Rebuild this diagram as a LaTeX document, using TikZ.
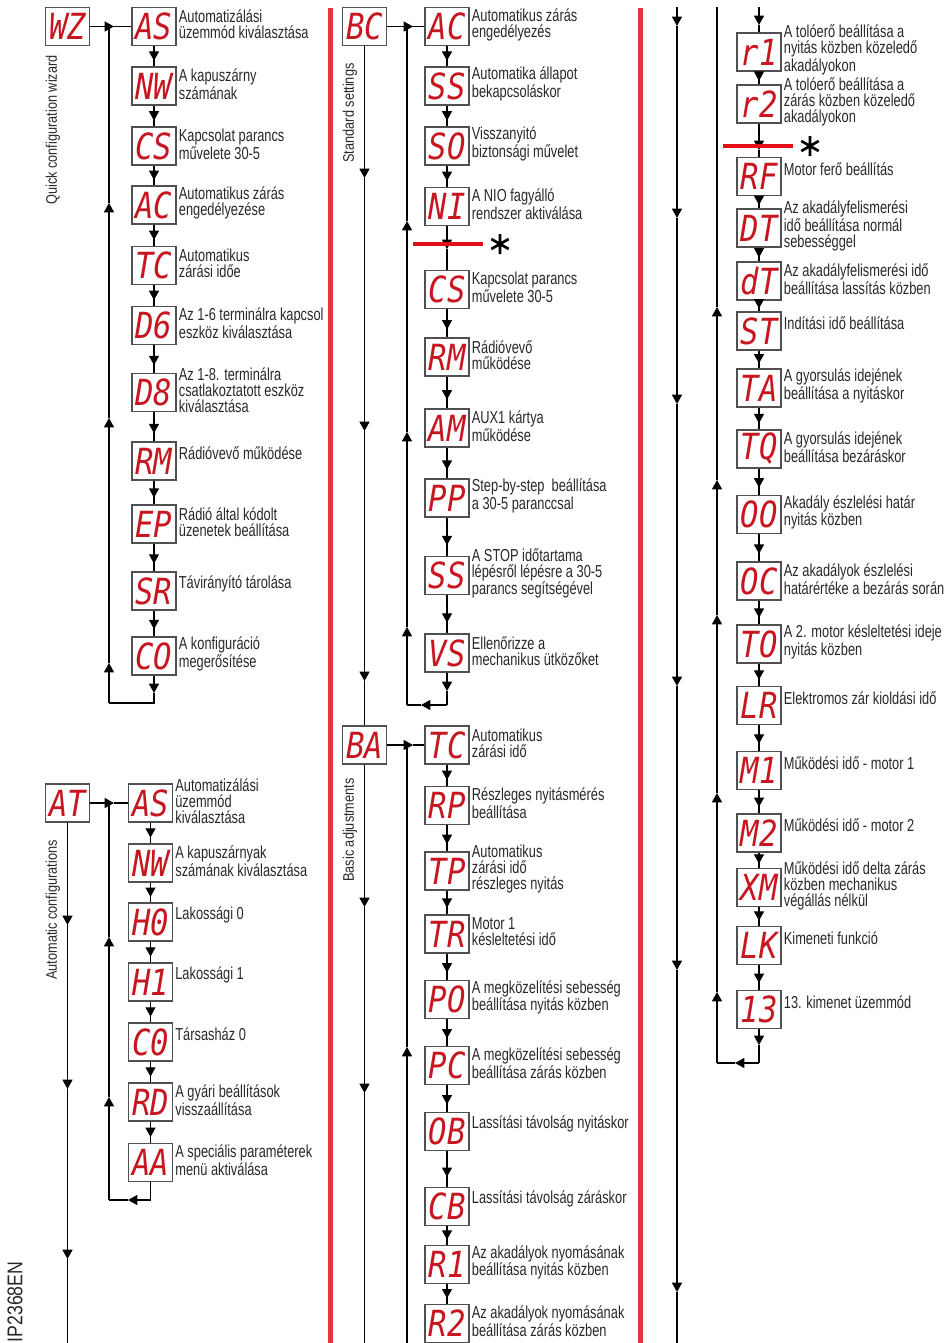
\documentclass[tikz,border=0pt]{standalone}
\usepackage{fontspec}
\usetikzlibrary{arrows.meta,decorations.markings}
\setmainfont{Liberation Sans}
\newfontfamily\labfam{Liberation Sans}[FakeStretch=0.74]
\newfontfamily\sidefam{Liberation Sans}[FakeStretch=0.83]
\newfontfamily\segfam{DejaVu Sans Mono}[FakeStretch=0.85]
\newcommand\labfont{\labfam\fontsize{13pt}{12pt}\selectfont}
\newcommand\sidefont{\sidefam\fontsize{11.5pt}{11.5pt}\selectfont}
\newcommand\segfont{\segfam\itshape\fontsize{27pt}{27pt}\selectfont}
\definecolor{segred}{RGB}{200,22,32}
\definecolor{barred}{RGB}{232,52,60}
\definecolor{asred}{RGB}{226,14,24}
\definecolor{boxgray}{RGB}{80,80,80}
\definecolor{textgray}{RGB}{40,40,40}
\tikzset{
  box/.style={draw=boxgray, line width=0.9pt, fill=white, minimum width=33pt, minimum height=28.5pt, inner sep=0pt, font=\segfont, text=segred},
  lab/.style={anchor=west, align=left, inner sep=0pt, font=\labfont, text=textgray, xshift=1.5pt, yshift=1.5pt},
  labone/.style={lab, yshift=4pt},
  flow/.style={draw=black, line width=0.9pt},
  tipped/.style={flow, -{Triangle[width=7.5pt,length=7pt]}},
  chain/.style={flow, postaction={decorate}, decoration={markings, mark=at position 0.72 with {\arrow{Triangle[width=7.5pt,length=7pt]}}}},
  side/.style={rotate=90, font=\sidefont, text=textgray, inner sep=0pt},
  redmark/.style={draw=asred, line width=2.4pt},
  star/.style={draw=black, line width=2pt}
}
\newcommand\bxl[5]{\node[box] (#1) at (#2,#3) {#4}; \node[lab] (#1t) at (#1.east) {#5};}
\newcommand\bxs[5]{\node[box] (#1) at (#2,#3) {#4}; \node[labone] (#1t) at (#1.east) {#5};}
\begin{document}
\begin{tikzpicture}[x=0.75pt,y=-0.75pt]
\useasboundingbox (0,0) rectangle (946,1343);

% ===== Column 1 top : Quick configuration wizard
\node[box] (wz) at (67.5,26.5) {WZ};
\node[side] (wzs) at (53,130) {Quick configuration wizard};
\bxl{as1}{154}{26.5}{AS}{Automatizálási\\üzemmód kiválasztása}
\bxl{nw1}{154}{86}{NW}{A kapuszárny\\számának}
\bxl{cs1}{154}{146}{CS}{Kapcsolat parancs\\művelete 30-5}
\bxl{ac1}{154}{205}{AC}{Automatikus zárás\\engedélyezése}
\bxl{tc1}{154}{265.5}{TC}{Automatikus\\zárási időe}
\node[box] (d61) at (154,325.5) {D6};
\begin{scope}
\clip (176,295) rectangle (327,356);
\node[lab] (d61t) at (d61.east) {Az 1-6 terminálra kapcsol\\eszköz kiválasztása};
\end{scope}
\bxl{d81}{154}{392.5}{D8}{Az 1-8. terminálra\\csatlakoztatott eszköz\\kiválasztása}
\bxs{rm1}{154}{461}{RM}{Rádióvevő működése}
\bxl{ep1}{154}{524}{EP}{Rádió által kódolt\\üzenetek beállítása}
\bxs{sr1}{154}{591}{SR}{Távirányító tárolása}
\bxl{co1}{154}{656}{CO}{A konfiguráció\\megerősítése}

\coordinate (j1) at (109,26.5);
\coordinate (j1a) at (114,26.5);
\draw[tipped] (wz) -- (j1a);
\draw[flow] (j1a) -- (as1);
\foreach \a/\b in {as1/nw1,nw1/cs1,cs1/ac1,ac1/tc1,tc1/d61,d61/d81,d81/rm1,rm1/ep1,ep1/sr1,sr1/co1}
  \draw[chain] (\a) -- (\b);
\coordinate (l1a) at (154,693);
\coordinate (l1b) at (154,703);
\coordinate (l1c) at (109,703);
\coordinate (u11) at (109,663);
\coordinate (u12) at (109,418);
\coordinate (u13) at (109,203);
\draw[tipped] (co1) -- (l1a);
\draw[flow] (l1a) -- (l1b) -- (l1c);
\draw[tipped] (l1c) -- (u11);
\draw[tipped] (u11) -- (u12);
\draw[tipped] (u12) -- (u13);
\draw[flow] (u13) -- (j1);

% ===== Column 1 bottom : Automatic configurations
\node[box] (at) at (67.5,803) {AT};
\node[side] (ats) at (53,910) {Automatic configurations};
\bxl{as2}{150.5}{803}{AS}{Automatizálási\\üzemmód\\kiválasztása}
\bxl{nw2}{150.5}{863}{NW}{A kapuszárnyak\\számának kiválasztása}
\bxs{h0}{150.5}{922}{H0}{Lakossági 0}
\bxs{h1}{150.5}{982}{H1}{Lakossági 1}
\bxs{c0}{150.5}{1042}{C0}{Társasház 0}
\bxl{rd}{150.5}{1102}{RD}{A gyári beállítások\\visszaállítása}
\bxl{aa}{150.5}{1162.5}{AA}{A speciális paraméterek\\menü aktiválása}

\coordinate (j2) at (109,803);
\coordinate (j2a) at (114,803);
\draw[tipped] (at) -- (j2a);
\draw[flow] (j2a) -- (as2);
\foreach \a/\b in {as2/nw2,nw2/h0,h0/h1,h1/c0,c0/rd,rd/aa}
  \draw[chain] (\a) -- (\b);
\coordinate (l2b) at (150.5,1200);
\coordinate (l2a) at (128,1200);
\coordinate (l2c) at (109,1200);
\coordinate (u21) at (109,1097);
\coordinate (u22) at (109,937);
\draw[flow] (aa) -- (l2b);
\draw[tipped] (l2b) -- (l2a);
\draw[flow] (l2a) -- (l2c);
\draw[tipped] (l2c) -- (u21);
\draw[tipped] (u21) -- (u22);
\draw[flow] (u22) -- (j2);
\coordinate (d21) at (67.5,925);
\coordinate (d22) at (67.5,1089);
\coordinate (d23) at (67.5,1259);
\coordinate (d2e) at (67.5,1343);
\draw[tipped] (at) -- (d21);
\draw[tipped] (d21) -- (d22);
\draw[tipped] (d22) -- (d23);
\draw[flow] (d23) -- (d2e);

\node[rotate=90, font=\sidefam\fontsize{16pt}{16pt}\selectfont, text=textgray, inner sep=0pt] (code) at (15,1302) {IP2368EN};

% ===== Column 2 : Standard settings
\node[box] (bc) at (364.5,26.5) {BC};
\node[side] (bcs) at (350,113) {Standard settings};
\bxl{ac2}{447}{26.5}{AC}{Automatikus zárás\\engedélyezés}
\bxl{ss2}{447}{86}{SS}{Automatika állapot\\bekapcsoláskor}
\bxl{so2}{447}{146}{SO}{Visszanyitó\\biztonsági művelet}
\bxl{ni2}{447}{206.5}{NI}{A NIO fagyálló\\rendszer aktiválása}
\bxl{cs2}{447}{289.5}{CS}{Kapcsolat parancs\\művelete 30-5}
\bxl{rm2}{447}{357}{RM}{Rádióvevő\\működése}
\bxl{am2}{447}{428}{AM}{AUX1 kártya\\működése}
\bxl{pp2}{447}{498}{PP}{Step-by-step\ \ beállítása\\a 30-5 paranccsal}
\bxl{st2}{447}{575.5}{SS}{A STOP időtartama\\lépésről lépésre a 30-5\\parancs segítségével}
\bxl{vs2}{447}{653}{VS}{Ellenőrizze a\\mechanikus ütközőket}

\coordinate (jb) at (407,26.5);
\coordinate (jba) at (413,26.5);
\draw[tipped] (bc) -- (jba);
\draw[flow] (jba) -- (ac2);
\foreach \a/\b in {ac2/ss2,ss2/so2,so2/ni2,cs2/rm2,rm2/am2,am2/pp2,pp2/st2,st2/vs2}
  \draw[chain] (\a) -- (\b);
\coordinate (nia) at (447,249);
\draw[tipped] (ni2) -- (nia);
\draw[flow] (nia) -- (cs2);
\coordinate (rl1a) at (413,244);
\coordinate (rl1b) at (483,244);
\draw[redmark] (rl1a) -- (rl1b);
\draw[star] (500,234) -- (500,254) (491.3,239) -- (508.7,249) (491.3,249) -- (508.7,239);

\coordinate (l3a) at (447,691);
\coordinate (l3b) at (447,705);
\coordinate (l3c) at (421,705);
\coordinate (l3d) at (407,705);
\coordinate (u31) at (407,627);
\coordinate (u32) at (407,432);
\coordinate (u33) at (407,221);
\draw[tipped] (vs2) -- (l3a);
\draw[flow] (l3a) -- (l3b);
\draw[tipped] (l3b) -- (l3c);
\draw[flow] (l3c) -- (l3d);
\draw[tipped] (l3d) -- (u31);
\draw[tipped] (u31) -- (u32);
\draw[tipped] (u32) -- (u33);
\draw[flow] (u33) -- (jb);

% ===== Column 2 : Basic adjustments
\node[box] (ba) at (364.5,745) {BA};
\node[side] (bas) at (350,830) {Basic adjustments};
\coordinate (d31) at (364.5,178);
\coordinate (d32) at (364.5,431);
\coordinate (d33) at (364.5,681);
\draw[tipped] (bc) -- (d31);
\draw[tipped] (d31) -- (d32);
\draw[tipped] (d32) -- (d33);
\draw[flow] (d33) -- (ba);

\bxl{tc2}{447}{745}{TC}{Automatikus\\zárási idő}
\bxl{rp2}{447}{805.5}{RP}{Részleges nyitásmérés\\beállítása}
\bxl{tp2}{447}{871}{TP}{Automatikus\\zárási idő\\részleges nyitás}
\bxl{tr2}{447}{934}{TR}{Motor 1\\késleltetési idő}
\bxl{po2}{447}{999.5}{PO}{A megközelítési sebesség\\beállítása nyitás közben}
\bxl{pc2}{447}{1065.5}{PC}{A megközelítési sebesség\\beállítása zárás közben}
\bxs{ob2}{447}{1131.5}{OB}{Lassítási távolság nyitáskor}
\bxs{cb2}{447}{1206.5}{CB}{Lassítási távolság záráskor}
\bxl{r12}{447}{1264.5}{R1}{Az akadályok nyomásának\\beállítása nyitás közben}
\bxl{r22}{447}{1323.5}{R2}{Az akadályok nyomásának\\beállítása zárás közben}

\coordinate (jc) at (407,745);
\coordinate (jca) at (413,745);
\draw[tipped] (ba) -- (jca);
\draw[flow] (jca) -- (tc2);
\foreach \a/\b in {tc2/rp2,rp2/tp2,tp2/tr2,tr2/po2,po2/pc2,pc2/ob2,ob2/cb2,cb2/r12,r12/r22}
  \draw[chain] (\a) -- (\b);
\coordinate (r2e) at (447,1343);
\draw[flow] (r22) -- (r2e);
\coordinate (c4e) at (407,1343);
\coordinate (u41) at (407,1047);
\draw[tipped] (c4e) -- (u41);
\draw[flow] (u41) -- (jc);
\coordinate (d41) at (364.5,907);
\coordinate (d42) at (364.5,1093);
\coordinate (d4e) at (364.5,1343);
\draw[tipped] (ba) -- (d41);
\draw[tipped] (d41) -- (d42);
\draw[flow] (d42) -- (d4e);

% ===== Column 3
\bxl{r1}{759}{52}{r1}{A tolóerő beállítása a\\nyitás közben közeledő\\akadályokon}
\bxl{r2}{759}{104}{r2}{A tolóerő beállítása a\\zárás közben közeledő\\akadályokon}
\bxs{rf}{759}{176.5}{RF}{Motor ferő beállítás}
\bxl{dt}{759}{228}{DT}{Az akadályfelismerési\\idő beállítása normál\\sebességgel}
\bxl{dts}{759}{281}{dT}{Az akadályfelismerési idő\\beállítása lassítás közben}
\bxs{st3}{759}{331}{ST}{Indítási idő beállítása}
\bxl{ta}{759}{388}{TA}{A gyorsulás idejének\\beállítása a nyitáskor}
\bxl{tq}{759}{449}{TQ}{A gyorsulás idejének\\beállítása bezáráskor}
\bxl{oo}{759}{514.5}{OO}{Akadály észlelési határ\\nyitás közben}
\bxl{oc}{759}{581}{OC}{Az akadályok észlelési\\határértéke a bezárás során}
\bxl{to}{759}{644}{TO}{A 2. motor késleltetési ideje\\nyitás közben}
\bxs{lr}{759}{705.5}{LR}{Elektromos zár kioldási idő}
\bxs{m1}{759}{770.5}{M1}{Működési idő - motor 1}
\bxs{m2}{759}{833}{M2}{Működési idő - motor 2}
\bxl{xm}{759}{887.5}{XM}{Működési idő delta zárás\\közben mechanikus\\végállás nélkül}
\bxs{lk}{759}{945.5}{LK}{Kimeneti funkció}
\bxs{c13}{759}{1009.5}{13}{13. kimenet üzemmód}

\coordinate (c5s) at (759,7);
\coordinate (c5a) at (759,25);
\draw[tipped] (c5s) -- (c5a);
\draw[flow] (c5a) -- (r1);
\coordinate (r2a) at (759,150);
\draw[tipped] (r2) -- (r2a);
\draw[flow] (r2a) -- (rf);
\foreach \a/\b in {r1/r2,rf/dt,dt/dts,dts/st3,st3/ta,ta/tq,tq/oo,oo/oc,oc/to,to/lr,lr/m1,m1/m2,m2/xm,xm/lk,lk/c13}
  \draw[chain] (\a) -- (\b);
\coordinate (rl2a) at (723,146);
\coordinate (rl2b) at (793,146);
\draw[redmark] (rl2a) -- (rl2b);
\draw[star] (810,136) -- (810,156) (801.3,141) -- (818.7,151) (801.3,151) -- (818.7,141);

\coordinate (l5a) at (759,1045);
\coordinate (l5b) at (759,1063);
\coordinate (l5c) at (735,1063);
\coordinate (l5d) at (717,1063);
\coordinate (u51) at (717,992);
\coordinate (u52) at (717,793);
\coordinate (u53) at (717,615);
\coordinate (u54) at (717,480);
\coordinate (u55) at (717,307);
\coordinate (u5e) at (717,7);
\draw[tipped] (c13) -- (l5a);
\draw[flow] (l5a) -- (l5b);
\draw[tipped] (l5b) -- (l5c);
\draw[flow] (l5c) -- (l5d);
\draw[tipped] (l5d) -- (u51);
\draw[tipped] (u51) -- (u52);
\draw[tipped] (u52) -- (u53);
\draw[tipped] (u53) -- (u54);
\draw[tipped] (u54) -- (u55);
\draw[flow] (u55) -- (u5e);

\coordinate (d6s) at (677,7);
\coordinate (d61c) at (677,26);
\coordinate (d62) at (677,218);
\coordinate (d63) at (677,404);
\coordinate (d64) at (677,686);
\coordinate (d65) at (677,970);
\coordinate (d66) at (677,1292);
\coordinate (d6e) at (677,1343);
\draw[tipped] (d6s) -- (d61c);
\draw[tipped] (d61c) -- (d62);
\draw[tipped] (d62) -- (d63);
\draw[tipped] (d63) -- (d64);
\draw[tipped] (d64) -- (d65);
\draw[tipped] (d65) -- (d66);
\draw[flow] (d66) -- (d6e);

% ===== red separator bars
\fill[barred] (327.5,8) rectangle (332.5,1343);
\fill[barred] (637.5,8) rectangle (642.5,1343);
\end{tikzpicture}
\end{document}
